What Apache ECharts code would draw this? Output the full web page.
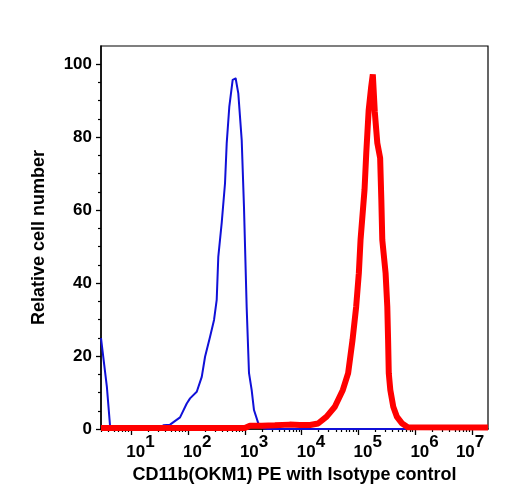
<!DOCTYPE html>
<html>
<head>
<meta charset="utf-8">
<script src="https://cdn.jsdelivr.net/npm/echarts@6/dist/echarts.min.js"></script>
<style>
  html, body { margin: 0; padding: 0; background: #fff; }
  #chart { width: 508px; height: 500px; }
</style>
</head>
<body>
<div id="chart"></div>
<script>
// x values are log10 of the fluorescence intensity
const blueX = [0.47, 0.573, 0.631, 0.684, 1.158, 1.246, 1.51, 1.568, 1.685, 1.861, 1.979, 2.037, 2.155, 2.243, 2.301, 2.388, 2.459, 2.506, 2.534, 2.594, 2.652, 2.682, 2.728, 2.787, 2.84, 2.886, 2.946, 2.986, 3.033, 3.074, 3.121, 3.162, 3.237, 3.302, 3.408, 7.28]
const blueY = [24.9, 11.6, 0.5, 0, 0, 0.4, 0.4, 1.0, 1.2, 3.2, 7.0, 8.4, 10.2, 14.3, 19.8, 25.2, 29.9, 35.4, 47.2, 56.5, 67.3, 78.3, 88.4, 95.7, 96.1, 92.0, 79.2, 60.9, 33.5, 15.4, 10.7, 5.2, 1.6, 0.3, 0, 0]

const redX = [0.47, 3.0, 3.09, 3.3, 3.53, 3.79, 3.97, 4.15, 4.29, 4.44, 4.585, 4.726, 4.819, 4.896, 4.96, 5.007, 5.037, 5.107, 5.138, 5.18, 5.222, 5.253, 5.288, 5.332, 5.382, 5.403, 5.42, 5.478, 5.508, 5.522, 5.534, 5.561, 5.613, 5.675, 5.763, 5.868, 7.28]
const redY = [0.3, 0.3, 0.9, 0.9, 1.0, 1.2, 1.1, 1.1, 1.5, 3.4, 6.1, 10.7, 15.3, 24.4, 33.5, 42.7, 51.8, 65.5, 75.7, 87.4, 93.5, 97.2, 86.9, 78.4, 74.3, 62.8, 51.8, 42.7, 33.5, 24.4, 15.3, 10.7, 6.1, 3.4, 1.6, 0.5, 0.4]

const xDecades = [1, 2, 3, 4, 5, 6, 7]
const yTicks = [0, 20, 40, 60, 80, 100]
const yMinorTicks = [5, 10, 15, 25, 30, 35, 45, 50, 55, 65, 70, 75, 85, 90, 95]

const X_MIN = 0.47
const X_MAX = 7.28
const FONT = "'Liberation Sans', Arial, sans-serif"

// minor ticks at 2..9 x 10^n, in log units
const xMinorTicks = []
for (let d = 0; d <= 7; d++) {
  for (let k = 2; k <= 9; k++) {
    const v = d + Math.log10(k)
    if (v > X_MIN && v < X_MAX) xMinorTicks.push(v)
  }
}

const pairs = (xs, ys) => xs.map((x, i) => [x, ys[i]])

const chart = echarts.init(document.getElementById('chart'))

chart.setOption({
  backgroundColor: '#fff',
  animation: false,
  grid: {
    left: 101,
    right: 20,
    top: 46,
    bottom: 71,
    show: true,
    borderColor: '#000',
    borderWidth: 1.2,
  },
  xAxis: [
    {
      type: 'value',
      min: X_MIN,
      max: X_MAX,
      name: 'CD11b(OKM1) PE with Isotype control',
      nameLocation: 'middle',
      nameGap: 36,
      nameTextStyle: { fontFamily: FONT, fontWeight: 'bold', fontSize: 18, color: '#000' },
      axisLine: { show: true, lineStyle: { color: '#000', width: 1.5 } },
      splitLine: { show: false },
      axisTick: { show: true, length: 6, customValues: xDecades, lineStyle: { color: '#000', width: 1.3 } },
      axisLabel: {
        customValues: xDecades,
        margin: 5,
        formatter: (v) => (v === 7 ? `{b|10}{s|${v}}{sp2| }` : `{sp| }{b|10}{s|${v}}`),
        rich: {
          sp: { width: 18.6, fontSize: 17, lineHeight: 27 },
          sp2: { width: 4, fontSize: 17, lineHeight: 27 },
          b: { fontFamily: FONT, fontWeight: 'bold', fontSize: 17, lineHeight: 17, verticalAlign: 'bottom', color: '#000' },
          s: { fontFamily: FONT, fontWeight: 'bold', fontSize: 17, lineHeight: 17, verticalAlign: 'top', color: '#000' },
        },
      },
    },
    {
      type: 'value',
      min: X_MIN,
      max: X_MAX,
      position: 'bottom',
      axisLine: { show: false },
      splitLine: { show: false },
      axisLabel: { show: false },
      axisTick: { show: true, length: 3, customValues: xMinorTicks, lineStyle: { color: '#000', width: 1.2 } },
    },
  ],
  yAxis: [
    {
      type: 'value',
      min: 0,
      max: 105,
      name: 'Relative cell number',
      nameLocation: 'middle',
      nameGap: 53,
      nameTextStyle: { fontFamily: FONT, fontWeight: 'bold', fontSize: 18, color: '#000' },
      axisLine: { show: true, lineStyle: { color: '#000', width: 1.5 } },
      splitLine: { show: false },
      axisTick: { show: true, length: 5, customValues: yTicks, lineStyle: { color: '#000', width: 1.3 } },
      axisLabel: {
        customValues: yTicks,
        margin: 9,
        fontFamily: FONT,
        fontWeight: 'bold',
        fontSize: 17,
        color: '#000',
      },
    },
    {
      type: 'value',
      min: 0,
      max: 105,
      position: 'left',
      axisLine: { show: false },
      splitLine: { show: false },
      axisLabel: { show: false },
      axisTick: { show: true, length: 3, customValues: yMinorTicks, lineStyle: { color: '#000', width: 1.2 } },
    },
  ],
  series: [
    {
      name: 'Isotype control',
      type: 'line',
      xAxisIndex: 0,
      yAxisIndex: 0,
      showSymbol: false,
      clip: false,
      lineStyle: { color: '#1010d8', width: 2, join: 'round' },
      data: pairs(blueX, blueY),
    },
    {
      name: 'CD11b(OKM1) PE',
      type: 'line',
      xAxisIndex: 0,
      yAxisIndex: 0,
      showSymbol: false,
      clip: false,
      lineStyle: { color: '#ff0000', width: 6, join: 'bevel' },
      data: pairs(redX, redY),
    },
  ],
})
</script>
</body>
</html>
